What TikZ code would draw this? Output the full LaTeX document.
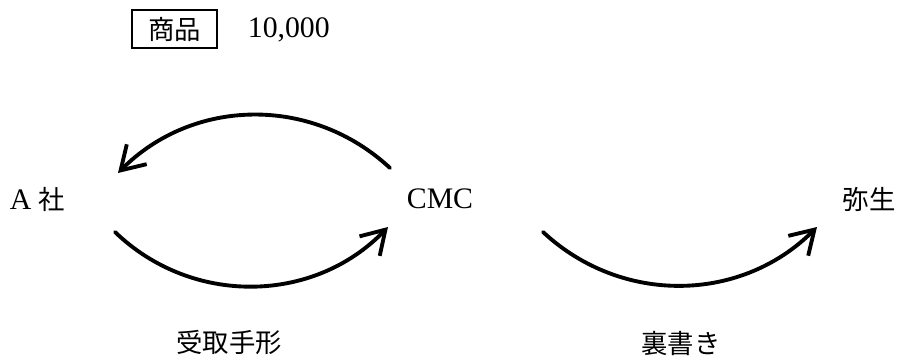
\documentclass[tikz,border=0pt]{standalone}
\usepackage{fontspec}
\setmainfont{Liberation Serif}[Scale=1.13]
\newfontfamily\jp{Noto Sans CJK JP}
\usetikzlibrary{arrows.meta}
\usetikzlibrary{positioning}

\begin{document}
\begin{tikzpicture}
[x=0.2mm,y=0.2mm,%
  every node/.style={font=\fontsize{15}{18}\selectfont,inner sep=2pt},%
  flow/.style={line width=2.2pt,line cap=round,-{Straight Barb[length=13pt,width=16pt]}},%
  labelbox/.style={draw,line width=1.3pt,minimum width=17mm,minimum height=7.6mm}]
\useasboundingbox (0,0) rectangle (902,358);
% goods box and amount
\node[labelbox] (goods) at (174.5,329) {\jp 商品};
\node[anchor=west] (amount) at (244,328) {10,000};
% parties
\node (asha) at (37.5,159) {A {\jp 社}};
\node (cmc) at (440,159) {CMC};
\node (yayoi) at (869,159) {\jp 弥生};
% labels under the arrows
\node (tegata) at (229,15) {\jp 受取手形};
\node (uragaki) at (681,15) {\jp 裏書き};
% flows
\draw[flow] ([shift={(-50,31)}]cmc.center) to[bend right=44] ([shift={(80.5,26)}]asha.center);
\draw[flow] ([shift={(77.5,-33)}]asha.center) to[bend right=45] ([shift={(-52,-28)}]cmc.center);
\draw[flow] ([shift={(103,-33)}]cmc.center) to[bend right=44] ([shift={(-52,-28)}]yayoi.center);
\end{tikzpicture}
\end{document}
